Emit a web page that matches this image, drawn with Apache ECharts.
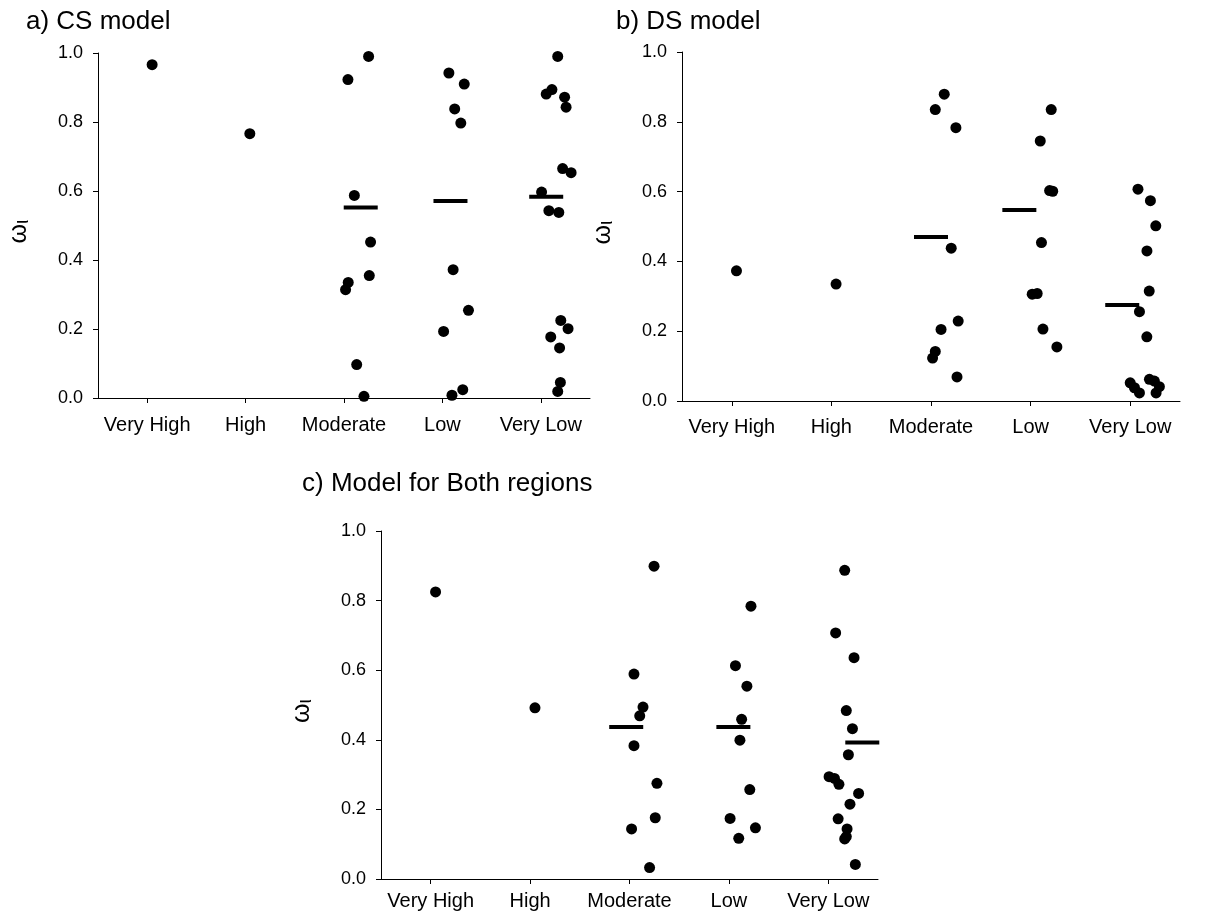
<!DOCTYPE html>
<html>
<head>
<meta charset="utf-8">
<title>Omega by category</title>
<script src="https://cdn.jsdelivr.net/npm/echarts@6/dist/echarts.min.js"></script>
<style>
  html, body { margin: 0; padding: 0; background: #fff; }
  #chart { width: 1207px; height: 915px; }
</style>
</head>
<body>
<div id="chart"></div>
<script>
// Categories shared by all three panels
const categories = ['Very High', 'High', 'Moderate', 'Low', 'Very Low'];
const yTickValues = [0.0, 0.2, 0.4, 0.6, 0.8, 1.0];

// a) CS model: per-category values and horizontal jitter (in category widths)
const csValues = [
  [0.966],
  [0.766],
  [0.990, 0.923, 0.587, 0.452, 0.335, 0.314, 0.355, 0.097, 0.005],
  [0.942, 0.910, 0.838, 0.797, 0.372, 0.254, 0.193, 0.024, 0.008],
  [0.990, 0.894, 0.881, 0.872, 0.843, 0.665, 0.653, 0.597, 0.543, 0.538, 0.225, 0.201, 0.177, 0.145, 0.045, 0.019]
];
const csJitter = [
  [0.05],
  [0.043],
  [0.25, 0.04, 0.105, 0.27, 0.043, 0.016, 0.257, 0.129, 0.203],
  [0.066, 0.222, 0.125, 0.187, 0.109, 0.265, 0.012, 0.207, 0.097],
  [0.172, 0.113, 0.055, 0.242, 0.257, 0.222, 0.308, 0.008, 0.082, 0.183, 0.203, 0.277, 0.101, 0.191, 0.199, 0.172]
];
const csMeans = [null, null, 0.552, 0.571, 0.583];
const csMeanShift = [0, 0, 0.17, 0.082, 0.055];

// b) DS model
const dsValues = [
  [0.373],
  [0.335],
  [0.879, 0.835, 0.783, 0.438, 0.229, 0.205, 0.142, 0.123, 0.069],
  [0.835, 0.745, 0.603, 0.601, 0.454, 0.306, 0.308, 0.206, 0.155],
  [0.607, 0.574, 0.502, 0.430, 0.315, 0.256, 0.184, 0.052, 0.038, 0.023, 0.062, 0.057, 0.041, 0.023]
];
const dsJitter = [
  [0.047],
  [0.047],
  [0.133, 0.043, 0.25, 0.203, 0.273, 0.101, 0.043, 0.016, 0.261],
  [0.207, 0.097, 0.191, 0.222, 0.109, 0.016, 0.066, 0.124, 0.264],
  [0.078, 0.203, 0.257, 0.168, 0.191, 0.093, 0.167, 0.0, 0.043, 0.093, 0.193, 0.243, 0.293, 0.26]
];
const dsMeans = [null, null, 0.470, 0.547, 0.275];
const dsMeanShift = [0, 0, 0.0, -0.113, -0.08];

// c) Model for both regions
const bothValues = [
  [0.825],
  [0.492],
  [0.899, 0.589, 0.494, 0.469, 0.383, 0.275, 0.176, 0.144, 0.033],
  [0.784, 0.613, 0.554, 0.459, 0.399, 0.257, 0.174, 0.147, 0.117],
  [0.887, 0.707, 0.636, 0.484, 0.432, 0.357, 0.294, 0.289, 0.272, 0.246, 0.215, 0.173, 0.144, 0.122, 0.115, 0.042]
];
const bothJitter = [
  [0.049],
  [0.049],
  [0.247, 0.045, 0.136, 0.103, 0.045, 0.276, 0.259, 0.021, 0.202],
  [0.222, 0.066, 0.181, 0.128, 0.111, 0.21, 0.012, 0.267, 0.099],
  [0.165, 0.074, 0.259, 0.181, 0.243, 0.202, 0.008, 0.062, 0.107, 0.305, 0.218, 0.099, 0.189, 0.181, 0.165, 0.272]
];
const bothMeans = [null, null, 0.437, 0.437, 0.392];
const bothMeanShift = [0, 0, -0.033, 0.045, 0.342];

const panelTitles = ['a) CS model', 'b) DS model', 'c) Model for Both regions'];

const FONT = '"Liberation Sans", Arial, Helvetica, sans-serif';
const INK = '#000';

// Each panel: grid box, title position, label margin
const panels = [
  { values: csValues, jitter: csJitter, means: csMeans, shift: csMeanShift,
    grid: { left: 98, top: 53, width: 492, height: 345 }, title: { left: 26, top: 9 }, labelMargin: 17 },
  { values: dsValues, jitter: dsJitter, means: dsMeans, shift: dsMeanShift,
    grid: { left: 682, top: 52, width: 498, height: 349 }, title: { left: 616, top: 9 }, labelMargin: 16 },
  { values: bothValues, jitter: bothJitter, means: bothMeans, shift: bothMeanShift,
    grid: { left: 381, top: 531, width: 497, height: 348 }, title: { left: 302, top: 471 }, labelMargin: 12 }
];

function pointsOf(values, jitter) {
  const out = [];
  values.forEach((list, ci) => {
    list.forEach((v, k) => out.push([ci + jitter[ci][k], v]));
  });
  return out;
}

function meansOf(means, shift) {
  const out = [];
  means.forEach((m, ci) => {
    if (m !== null) out.push([ci + shift[ci], m]);
  });
  return out;
}

const option = {
  animation: false,
  backgroundColor: '#fff',
  textStyle: { fontFamily: FONT, color: INK },
  title: panels.map((p, i) => ({
    text: panelTitles[i],
    left: p.title.left,
    top: p.title.top,
    padding: 0,
    textStyle: { fontFamily: FONT, fontSize: 26, fontWeight: 'normal', color: INK }
  })),
  grid: panels.map(p => Object.assign({ containLabel: false }, p.grid)),
  xAxis: [],
  yAxis: [],
  series: []
};

panels.forEach((p, i) => {
  // visible category axis
  option.xAxis.push({
    type: 'category',
    gridIndex: i,
    data: categories,
    boundaryGap: true,
    axisLine: { show: true, onZero: false, lineStyle: { color: INK, width: 1 } },
    axisTick: { show: true, alignWithLabel: true, length: 5, lineStyle: { color: INK } },
    axisLabel: { show: true, interval: 0, margin: p.labelMargin, fontSize: 20, color: INK, fontFamily: FONT },
    splitLine: { show: false }
  });
  // hidden numeric axis used to place jittered points
  option.xAxis.push({
    type: 'value',
    gridIndex: i,
    min: -0.5,
    max: 4.5,
    show: false
  });
  option.yAxis.push({
    type: 'value',
    gridIndex: i,
    min: yTickValues[0],
    max: yTickValues[yTickValues.length - 1],
    interval: 0.2,
    name: '{w|ω}{s|ι}',
    nameLocation: 'middle',
    nameRotate: 90,
    nameGap: 66,
    nameTextStyle: {
      padding: [0, 12, 0, 0],
      rich: {
        w: { fontSize: 25, fontFamily: FONT, color: INK, lineHeight: 25, verticalAlign: 'top', padding: [0, 0, 4, 0] },
        s: { fontSize: 20, fontFamily: FONT, color: INK, lineHeight: 20, verticalAlign: 'bottom' }
      }
    },
    axisLine: { show: true, onZero: false, lineStyle: { color: INK, width: 1 } },
    axisTick: { show: true, length: 5, lineStyle: { color: INK } },
    axisLabel: { margin: 15, fontSize: 18, color: INK, fontFamily: FONT, formatter: v => v.toFixed(1) },
    splitLine: { show: false }
  });
  option.series.push({
    type: 'scatter',
    xAxisIndex: i * 2 + 1,
    yAxisIndex: i,
    symbol: 'circle',
    symbolSize: 11,
    itemStyle: { color: INK, opacity: 1 },
    data: pointsOf(p.values, p.jitter),
    silent: true
  });
  option.series.push({
    type: 'scatter',
    xAxisIndex: i * 2 + 1,
    yAxisIndex: i,
    symbol: 'rect',
    symbolSize: [34, 4],
    itemStyle: { color: INK, opacity: 1 },
    data: meansOf(p.means, p.shift),
    silent: true
  });
});

const chart = echarts.init(document.getElementById('chart'), null, { renderer: 'canvas' });
chart.setOption(option);
</script>
</body>
</html>
